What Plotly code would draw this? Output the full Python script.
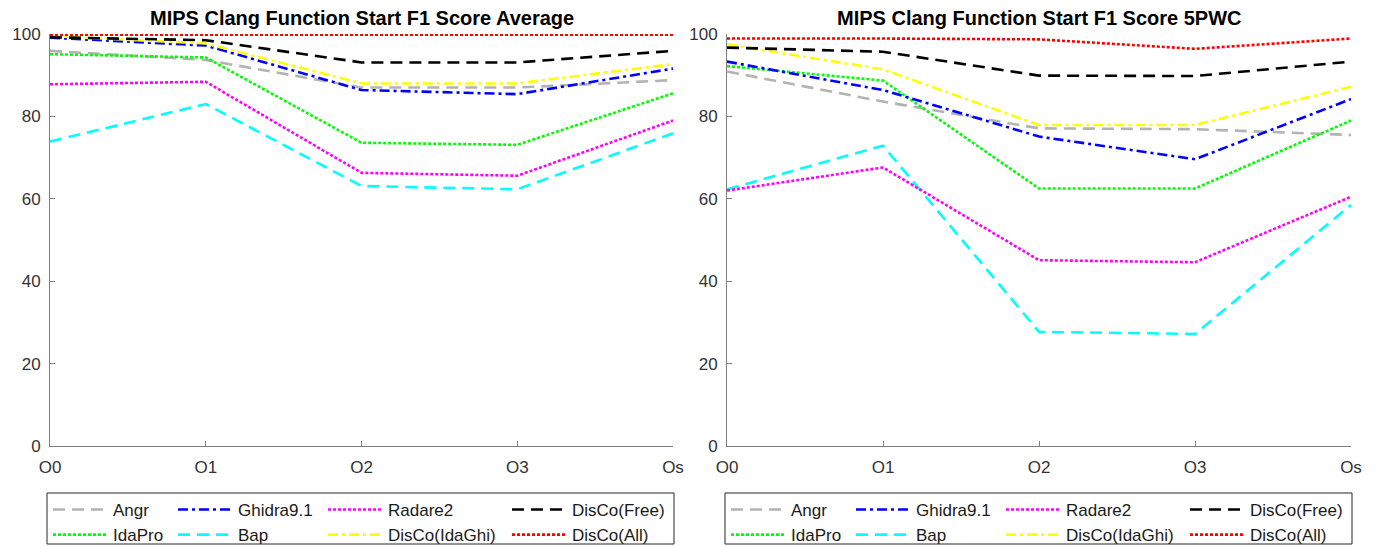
import plotly.graph_objects as go

categories = ["O0", "O1", "O2", "O3", "Os"]
series_names = ["Angr", "IdaPro", "Ghidra9.1", "Bap", "Radare2", "DisCo(IdaGhi)", "DisCo(Free)", "DisCo(All)"]

# Left chart: Average
avg_angr = [95.9, 93.7, 87.0, 87.0, 88.8]
avg_idapro = [95.1, 94.3, 73.6, 73.1, 85.6]
avg_ghidra = [99.1, 97.2, 86.4, 85.4, 91.6]
avg_bap = [73.9, 83.0, 63.1, 62.3, 75.9]
avg_radare = [87.8, 88.4, 66.3, 65.6, 79.0]
avg_idaghi = [99.5, 97.7, 88.0, 88.0, 92.7]
avg_free = [99.2, 98.5, 93.1, 93.1, 95.9]
avg_all = [99.8, 99.8, 99.8, 99.8, 99.8]

# Right chart: 5PWC
pwc_angr = [90.9, 83.6, 77.1, 76.9, 75.5]
pwc_idapro = [92.2, 88.7, 62.5, 62.5, 79.0]
pwc_ghidra = [93.3, 86.4, 75.1, 69.6, 84.2]
pwc_bap = [62.3, 72.9, 27.7, 27.2, 58.5]
pwc_radare = [62.0, 67.6, 45.1, 44.6, 60.5]
pwc_idaghi = [97.5, 91.4, 77.9, 77.9, 87.2]
pwc_free = [96.7, 95.7, 89.9, 89.8, 93.3]
pwc_all = [98.9, 98.9, 98.7, 96.4, 98.9]

titles = ["MIPS Clang Function Start F1 Score Average", "MIPS Clang Function Start F1 Score 5PWC"]
y_ticks = [0, 20, 40, 60, 80, 100]

left_data = [avg_angr, avg_idapro, avg_ghidra, avg_bap, avg_radare, avg_idaghi, avg_free, avg_all]
right_data = [pwc_angr, pwc_idapro, pwc_ghidra, pwc_bap, pwc_radare, pwc_idaghi, pwc_free, pwc_all]

colors = ["#b3b3b3", "#00ff00", "#0000ff", "#00ffff", "#ff00ff", "#ffff00", "#000000", "#ff0000"]
DASH = "12px,7px"
DASHDOT = "10px,4px,3px,4px"
DOT = "3px,2px"
dashes = [DASH, DOT, DASHDOT, DASH, DOT, DASHDOT, DASH, DOT]
# legend column index for each series (column-major, 2 rows)
legend_col = [0, 0, 1, 1, 2, 2, 3, 3]

W, H = 1378, 546
FONT = "Liberation Sans"

def px_x(p):
    return p / W

def px_y(p):
    return 1 - p / H

fig = go.Figure()

domains = [(50, 673), (727, 1351)]
for panel, data in enumerate([left_data, right_data]):
    xa = "x" if panel == 0 else "x2"
    ya = "y" if panel == 0 else "y2"
    for i, name in enumerate(series_names):
        lg_index = panel * 4 + legend_col[i] + 1
        lg = "legend" if lg_index == 1 else f"legend{lg_index}"
        fig.add_trace(go.Scatter(
            x=categories, y=data[i], mode="lines", name=name,
            line=dict(color=colors[i], width=2.6, dash=dashes[i]),
            xaxis=xa, yaxis=ya, legend=lg, showlegend=True,
        ))

axis_common = dict(
    showgrid=False, zeroline=False, showline=True, linecolor="#808080", linewidth=1,
    ticks="inside", ticklen=5, tickcolor="#808080",
    tickfont=dict(family=FONT, size=17, color="#333333"),
)

y0, y1 = px_y(446), px_y(34)
for panel, (a, b) in enumerate(domains):
    sfx = "" if panel == 0 else "2"
    fig.layout["xaxis" + sfx] = dict(
        domain=[px_x(a), px_x(b)], anchor="y" + sfx, type="category",
        range=[0, len(categories) - 1], ticklabelstandoff=6, **axis_common)
    fig.layout["yaxis" + sfx] = dict(
        domain=[y0, y1], anchor="x" + sfx, range=[0, 100],
        tickvals=y_ticks, ticklabelstandoff=5, **axis_common)
    fig.add_annotation(
        text="<b>" + titles[panel] + "</b>", x=px_x((a + b) / 2), y=px_y(18),
        xref="paper", yref="paper", showarrow=False, xanchor="center", yanchor="middle",
        font=dict(family=FONT, size=20, color="#000000"))

# legend boxes
box_x = [(47, 674), (725, 1352)]
for (a, b) in box_x:
    fig.add_shape(type="rect", xref="paper", yref="paper",
                  x0=px_x(a), x1=px_x(b), y0=px_y(544), y1=px_y(493),
                  line=dict(color="#262626", width=1), fillcolor="rgba(0,0,0,0)")

# x position (px) where each legend column's sample line begins
col_sample_x = [[53, 178, 328, 512], [731, 856, 1006, 1190]]
ITEMW = 55
legend_layout = {}
for panel in range(2):
    for c in range(4):
        idx = panel * 4 + c + 1
        key = "legend" if idx == 1 else f"legend{idx}"
        legend_layout[key] = dict(
            x=px_x(col_sample_x[panel][c] - 5), xanchor="left",
            y=px_y(492), yanchor="top", xref="paper", yref="paper",
            orientation="v", bgcolor="rgba(0,0,0,0)", borderwidth=0,
            itemwidth=ITEMW, tracegroupgap=0,
            font=dict(family=FONT, size=17, color="#1a1a1a"),
        )
fig.update_layout(**legend_layout)

fig.update_layout(
    width=W, height=H, margin=dict(l=0, r=0, t=0, b=0, autoexpand=False),
    paper_bgcolor="white", plot_bgcolor="white",
)

fig.write_html("out.html")
